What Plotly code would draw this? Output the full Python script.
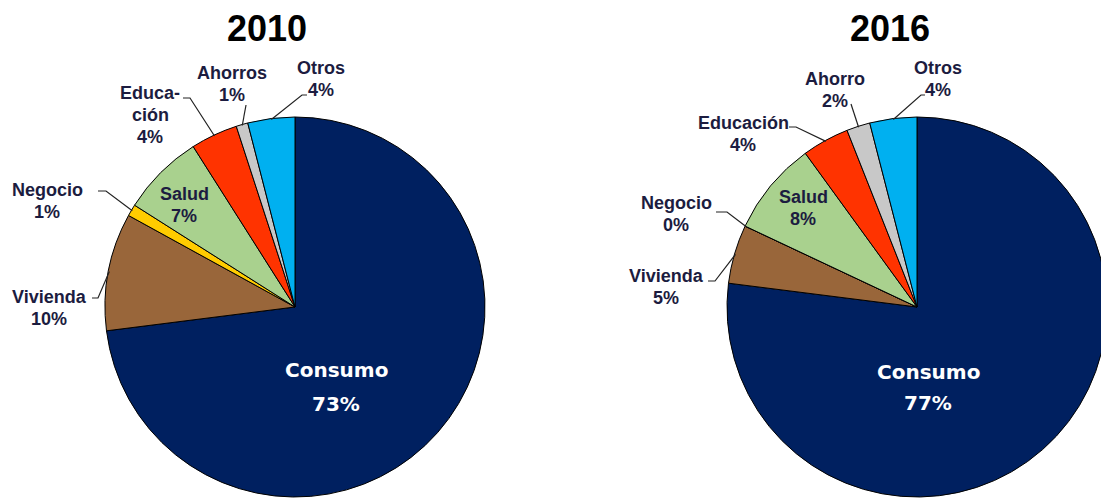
import math
import plotly.graph_objects as go

# data (percent of spending)
categories = ["Consumo", "Vivienda", "Negocio", "Salud", "Educación", "Ahorros", "Otros"]
values_2010 = [73, 10, 1, 7, 4, 1, 4]
values_2016 = [77, 5, 0, 8, 4, 2, 4]
names_2010 = ["Consumo", "Vivienda", "Negocio", "Salud", "Educa-<br>ción", "Ahorros", "Otros"]
names_2016 = ["Consumo", "Vivienda", "Negocio", "Salud", "Educación", "Ahorro", "Otros"]
years = ["2010", "2016"]

colors = ["#002060", "#99663a", "#ffcc00", "#a9d18e", "#ff3300", "#c8c8c8", "#00b0f0"]

W, H = 1109, 502
OFF = 8  # page body margin
R = 190
LINE = 22
centers = [(295, 307), (917, 307)]
title_pos = [(267, 29), (890, 29)]
consumo_pos = [(336, 370, 404), (928, 372, 403)]
label_color = "#1c1c40"

# x centre and y of first text line (px) for each small slice
label_pos = [
    {"Vivienda": (49, 297), "Negocio": (47, 190), "Salud": (184, 194),
     "Educación": (150, 93), "Ahorros": (232, 73), "Otros": (321, 68)},
    {"Vivienda": (666, 276), "Negocio": (676, 203), "Salud": (803, 197),
     "Educación": (743, 123), "Ahorros": (835, 79), "Otros": (938, 68)},
]
# leader anchor / elbow points (px); last point is computed on the slice edge
leaders = [
    {"Vivienda": [(92, 298), (98, 298)], "Negocio": [(98, 191), (106, 191)],
     "Educación": [(183, 98), (190, 98)], "Ahorros": [(246, 105)],
     "Otros": [(307, 95), (302, 95)]},
    {"Vivienda": [(708, 281), (715, 281)], "Negocio": [(716, 212), (727, 212)],
     "Educación": [(789, 127), (796, 127)], "Ahorros": [(851, 104)],
     "Otros": [(925, 95), (921, 95)]},
]


def px(x, y):
    return (x - OFF) / W, 1 - (y - OFF) / H


def edge_point(vals, i, c, r):
    tot = sum(vals)
    mid = (sum(vals[:i]) + vals[i] / 2) / tot
    th = 2 * math.pi * mid
    return c[0] + r * math.sin(th), c[1] - r * math.cos(th)


def text(x, y, s, size, color, family):
    a, b = px(x, y)
    return dict(x=a, y=b, xref="paper", yref="paper", showarrow=False,
                xanchor="center", yanchor="middle", text=s,
                font=dict(family=family, size=size, color=color))


fig = go.Figure()
annotations = []
shapes = []

for k, (vals, names) in enumerate([(values_2010, names_2010), (values_2016, names_2016)]):
    cx, cy = centers[k]
    x0, y0 = px(cx - R, cy + R)
    x1, y1 = px(cx + R, cy - R)
    fig.add_trace(go.Pie(
        labels=categories, values=vals, sort=False, direction="clockwise", rotation=0,
        marker=dict(colors=colors, line=dict(color="black", width=1)),
        textinfo="none", hoverinfo="label+value", showlegend=False,
        domain=dict(x=[x0, x1], y=[y0, y1]),
    ))

    annotations.append(text(*title_pos[k], "<b>%s</b>" % years[k], 36, "black",
                            "Liberation Sans"))

    # Consumo inside the big slice
    ccx, l1, l2 = consumo_pos[k]
    annotations.append(text(ccx, l1, "<b>%s</b>" % names[0], 20, "white", "DejaVu Sans"))
    annotations.append(text(ccx, l2, "<b>%d%%</b>" % vals[0], 20, "white", "DejaVu Sans"))

    for i in range(1, len(categories)):
        key = categories[i]
        lx, ly = label_pos[k][key]
        lines = names[i].split("<br>") + ["%d%%" % vals[i]]
        for j, s in enumerate(lines):
            annotations.append(text(lx, ly + j * LINE, "<b>%s</b>" % s, 18, label_color,
                                    "Liberation Sans"))
        if key in leaders[k]:
            pts = leaders[k][key] + [edge_point(vals, i, (cx, cy), R - 1)]
            path = ""
            for j, (a, b) in enumerate(pts):
                pa, pb = px(a, b)
                path += ("M" if j == 0 else " L") + " %f,%f" % (pa, pb)
            shapes.append(dict(type="path", path=path, xref="paper", yref="paper",
                               line=dict(color="#222222", width=1.2)))

fig.update_layout(
    width=W, height=H,
    margin=dict(l=0, r=0, t=0, b=0),
    paper_bgcolor="white", plot_bgcolor="white",
    annotations=annotations, shapes=shapes,
)

fig.write_html("out.html")
